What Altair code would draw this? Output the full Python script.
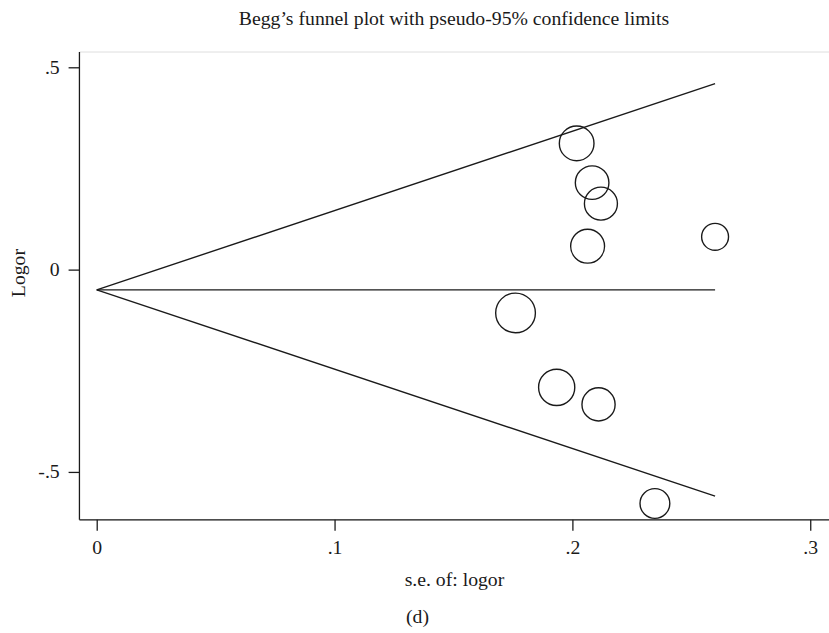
import altair as alt
import pandas as pd

# Study-level estimates: standard error and log odds ratio
se = [0.2018, 0.2083, 0.2120, 0.2064, 0.2600, 0.1761, 0.1934, 0.2110, 0.2347]
logor = [0.312, 0.215, 0.163, 0.058, 0.081, -0.107, -0.291, -0.333, -0.578]

# Pooled (fixed-effect) estimate and funnel extent
theta = -0.05
se_range = [0.0, 0.26]

x_ticks = [0, 0.1, 0.2, 0.3]
y_ticks = [-0.5, 0, 0.5]

studies = pd.DataFrame({"se": se, "logor": logor})
funnel = pd.DataFrame({"se": se_range})

font = "Liberation Serif"
ink = "#1a1a1a"
fs = 20

x_scale = alt.Scale(domain=[-0.00747, 0.3079], nice=False, zero=False)
y_scale = alt.Scale(domain=[-0.617, 0.539], nice=False, zero=False)

# Stata-style labels: ".5", "0", "-.5"
label_expr = (
    "datum.value == 0 ? '0' : "
    "replace(replace(format(datum.value, '.1f'), '0.', '.'), '\u2212', '-')"
)

x_axis = alt.Axis(
    values=x_ticks, labelExpr=label_expr, grid=False,
    domainColor=ink, tickColor=ink, tickSize=11, tickWidth=1.3, domainWidth=1.3,
    labelFont=font, labelFontSize=fs, labelColor=ink, labelPadding=8,
    title="s.e. of: logor", titleFont=font, titleFontSize=fs, titleFontWeight="normal",
    titleColor=ink, titleBaseline="middle", titleY=61,
)
y_axis = alt.Axis(
    values=y_ticks, labelExpr=label_expr, grid=False,
    domainColor=ink, tickColor=ink, tickSize=11, tickWidth=1.3, domainWidth=1.3,
    labelFont=font, labelFontSize=fs, labelColor=ink, labelPadding=9,
    title="Logor", titleFont=font, titleFontSize=fs, titleFontWeight="normal",
    titleColor=ink, titleAngle=270, titleBaseline="middle", titleAlign="center",
    titleX=-61, titleY=224,
)

base = alt.Chart(funnel).transform_calculate(
    mid=f"{theta}",
    upper=f"{theta} + 1.96 * datum.se",
    lower=f"{theta} - 1.96 * datum.se",
)

line_style = dict(color=ink, strokeWidth=1.4)

mid_line = base.mark_line(**line_style).encode(
    x=alt.X("se:Q", scale=x_scale, axis=x_axis),
    y=alt.Y("mid:Q", scale=y_scale, axis=y_axis),
)
upper_line = base.mark_line(**line_style).encode(
    x=alt.X("se:Q", scale=x_scale), y=alt.Y("upper:Q", scale=y_scale)
)
lower_line = base.mark_line(**line_style).encode(
    x=alt.X("se:Q", scale=x_scale), y=alt.Y("lower:Q", scale=y_scale)
)

# Circle area proportional to inverse-variance weight
points = alt.Chart(studies).transform_calculate(
    weight="1 / (datum.se * datum.se)"
).mark_point(shape="circle", filled=False, color=ink, strokeWidth=1.4, opacity=1).encode(
    x=alt.X("se:Q", scale=x_scale),
    y=alt.Y("logor:Q", scale=y_scale),
    size=alt.Size("weight:Q", scale=alt.Scale(domain=[0, 40], range=[0, 2010]), legend=None),
)

caption = alt.Chart(pd.DataFrame({"t": ["(d)"]})).mark_text(
    font=font, fontSize=fs, color=ink, baseline="middle", align="center"
).encode(x=alt.value(343), y=alt.value(573), text="t:N")

chart = alt.layer(mid_line, upper_line, lower_line, points, caption).properties(
    width=760,
    height=474,
    title=alt.TitleParams(
        "Begg’s funnel plot with pseudo-95% confidence limits",
        font=font, fontSize=fs, fontWeight="normal", color=ink,
        anchor="middle", offset=23,
    ),
    padding={"left": 80, "top": 48, "right": 0, "bottom": 111},
    autosize=alt.AutoSizeParams(type="none"),
).configure_view(stroke=None).configure(background="white")

chart.save("out.html", embed_options={"renderer": "svg", "actions": False})
